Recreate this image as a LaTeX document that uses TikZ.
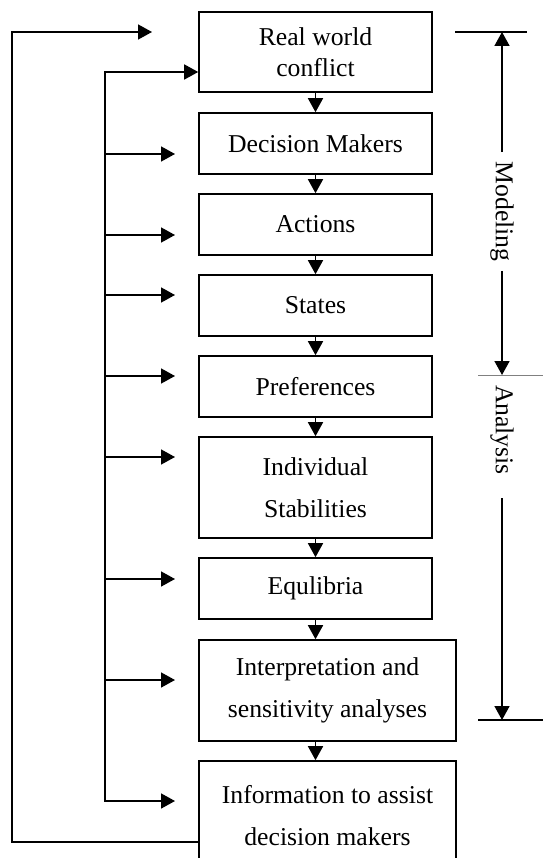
\documentclass[tikz,border=0pt]{standalone}
\usepackage{fontspec}
\setmainfont{Liberation Serif}
\usetikzlibrary{arrows.meta}

\tikzset{
    stage/.style={draw, line width=1.6pt, minimum width=233pt, minimum height=61pt,
        inner sep=0pt, align=center, font=\fontsize{25.7}{31}\selectfont},
    widestage/.style={stage, minimum width=257pt, font=\fontsize{25.7}{42}\selectfont},
    phase/.style={rotate=-90, inner sep=8.5pt, font=\fontsize{25.7}{31}\selectfont},
}

\begin{document}
\begin{tikzpicture}[x=1pt,y=-1pt,>={Triangle[length=14pt,width=15pt]},line width=1.6pt]
    \useasboundingbox (0,0) rectangle (543,858);

    \node[stage,minimum height=80pt] (rwc) at (315.5,52) {Real world\\conflict};
    \node[stage] (dm) at (315.5,143.5) {Decision Makers};
    \node[stage] (act) at (315.5,224.5) {Actions};
    \node[stage] (sta) at (315.5,305.5) {States};
    \node[stage] (pref) at (315.5,386.5) {Preferences};
    \node[stage,minimum height=101pt,font=\fontsize{25.7}{42}\selectfont]
        (ind) at (315.5,487.5) {Individual\\Stabilities};
    \node[stage] (equ) at (315.5,588.5) {Equlibria};
    \node[widestage,minimum height=101pt] (intp) at (327.5,690.5) {Interpretation and\\sensitivity analyses};
    \node[widestage,minimum height=110pt] (info) at (327.5,816) {Information to assist\\decision makers};

    \foreach \a/\b in {rwc/dm,dm/act,act/sta,sta/pref,pref/ind,ind/equ}
        \draw[->] (\a) -- (\b);
    \draw[->] (equ) -- (equ |- intp.north);
    \draw[->] (equ |- intp.south) -- (equ |- info.north);

    \coordinate (bus) at (105,72);
    \coordinate (busend) at (105,801);
    \foreach \n/\y in {dm/154,act/235,sta/295,pref/376,ind/457,equ/579,intp/680,info/801}
        \coordinate (in-\n) at (175,\y);
    \draw[<->] (bus -| rwc.west) -- (bus) -- (busend) -- (in-info);
    \foreach \n in {dm,act,sta,pref,ind,equ,intp}
        \draw[->] (bus |- in-\n) -- (in-\n);

    \coordinate (fb) at (12,842);
    \coordinate (ftip) at (152,32);
    \draw[->] (info.west |- fb) -- (fb) |- (ftip);

    \coordinate (mtop) at (502,32);
    \coordinate (amid) at (502,375);
    \coordinate (abot) at (502,720);
    \draw (mtop) ++(-47,0) -- ++(72,0);
    \draw[gray,line width=0.8pt] (amid) ++(-24,0) -- ++(65,0);
    \draw[line width=1.2pt] (abot) ++(-24,0) -- ++(65,0);
    \node[phase] (model) at (502,211.5) {Modeling};
    \node[phase] (anal) at (502,430) {Analysis};
    \draw[->] (model) -- (mtop);
    \draw[->] (model) -- (amid);
    \draw[->,shorten <=14pt] (anal) -- (abot);
\end{tikzpicture}
\end{document}
